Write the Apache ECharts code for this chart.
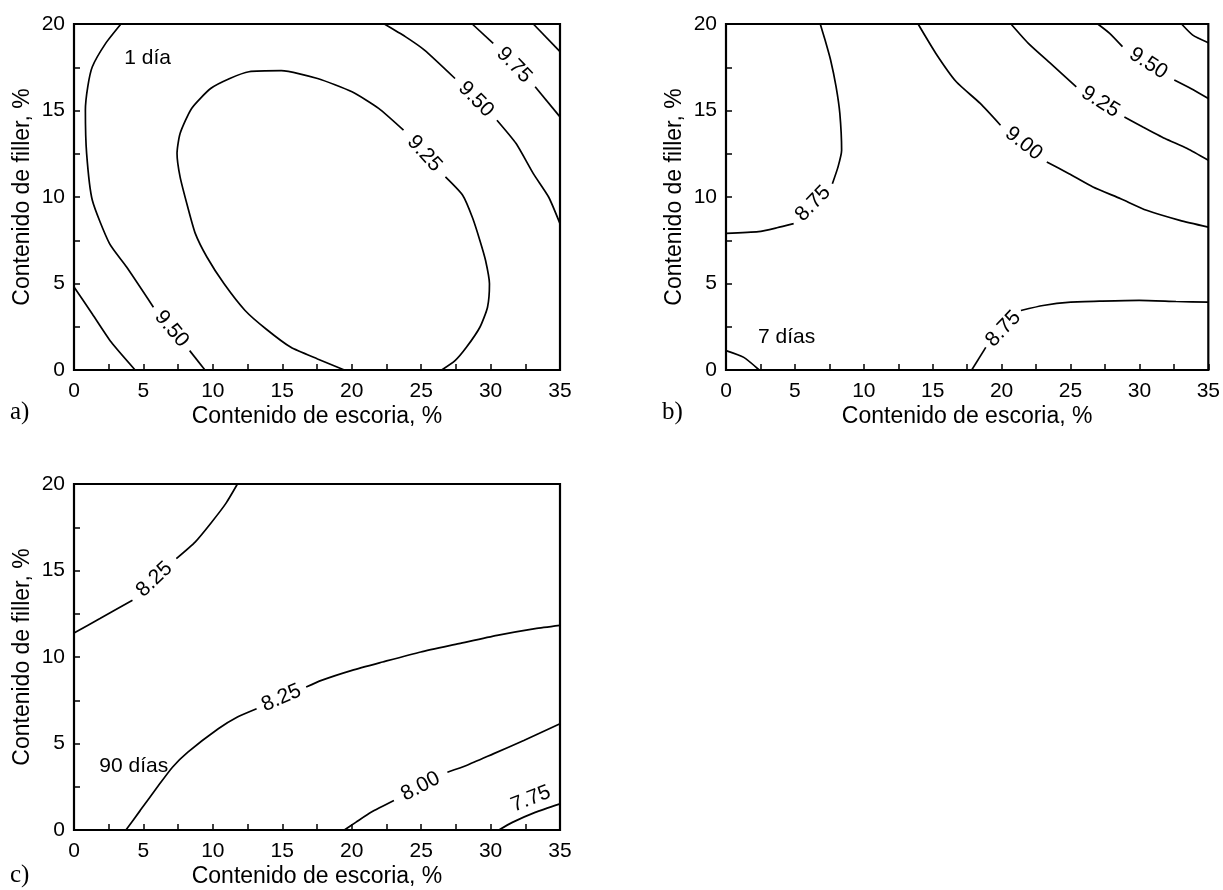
<!DOCTYPE html>
<html>
<head>
<meta charset="utf-8">
<script src="https://cdn.jsdelivr.net/npm/echarts@6/dist/echarts.min.js"></script>
<style>
html,body{margin:0;padding:0;background:#fff;}
#chart{width:1223px;height:890px;}
</style>
</head>
<body>
<div id="chart"></div>
<script>
// ---------- axis / text data ----------
const xRange = [0, 35];
const yRange = [0, 20];
const tickStep = 2.5;
const labelStep = 5;
const xTitle = 'Contenido de escoria, %';
const yTitle = 'Contenido de filler, %';
const panelLetters = ['a)', 'b)', 'c)'];
const panelTags = ['1 día', '7 días', '90 días'];
const panelTagPos = [[5.3, 18.0], [4.4, 1.9], [4.3, 3.7]];

// ---------- panel a (1 día) ----------
const a_975_low = [[0,4.8],[1.32,3.24],[2.69,1.6],[4.4,0]];
const a_950_left_1 = [[3.38,20],[2.28,18.88],[1.32,17.53],[0.99,16.37],[0.82,15.02],[0.91,12.51],[1.32,9.81],[2.56,7.3],[3.79,5.95],[5.72,3.63]];
const a_950_left_2 = [[8.33,1.12],[9.43,0]];
const a_925_1 = [[19.47,0],[17.54,0.64],[15.62,1.31],[13.83,2.37],[12.32,3.44],[10.81,4.98],[9.57,6.53],[8.74,7.88],[8.19,9.42],[7.64,11.16],[7.42,12.51],[7.64,13.67],[8.47,15.12],[9.84,16.27],[11.22,16.85],[12.6,17.24],[14.93,17.3],[17.54,16.85],[20.02,16.08],[21.94,15.12],[23.73,13.86]];
const a_925_2 = [[26.75,11.16],[27.99,10.1],[28.7,8.8],[29.23,7.49],[29.64,6.33],[29.92,4.98],[29.78,3.63],[29.23,2.47],[28.26,1.31],[27.44,0.54],[26.48,0]];
const a_950_right_1 = [[22.35,20],[23.86,19.27],[25.24,18.49],[27.44,16.85]];
const a_950_right_2 = [[30.46,14.44],[31.84,13.09],[33.08,11.35],[34.18,10.0],[35,8.46]];
const a_975_1 = [[28.68,20],[30.19,18.88]];
const a_975_2 = [[33.21,16.37],[35,14.63]];
const a_1000 = [[33.08,20],[35,18.4]];

// ---------- panel b (7 días) ----------
const b_875_top_1 = [[6.84,20],[7.19,19.07],[7.59,17.92],[7.99,16.37],[8.26,14.83],[8.39,12.7],[8.13,11.74],[7.72,10.77]];
const b_875_top_2 = [[4.91,8.46],[3.7,8.22],[2.36,8.0],[0,7.9]];
const b_900_1 = [[13.94,20],[15.23,18.3],[16.71,16.66],[18.45,15.41],[19.92,14.15]];
const b_900_2 = [[23.28,12.03],[24.89,11.35],[26.63,10.58],[28.64,9.9],[30.52,9.23],[32.93,8.65],[35,8.26]];
const b_925_1 = [[20.68,20],[21.94,18.88],[23.55,17.72],[25.42,16.37]];
const b_925_2 = [[28.91,14.63],[30.25,14.05],[31.86,13.38],[33.47,12.8],[35,12.12]];
const b_950_1 = [[26.98,20],[27.84,19.46],[28.77,18.69]];
const b_950_2 = [[32.53,16.76],[33.73,16.27],[35,15.69]];
const b_975 = [[33.06,20],[33.87,19.36],[35,18.92]];
const b_875_low_1 = [[17.83,0],[18.85,1.31]];
const b_875_low_2 = [[21.4,3.44],[23.01,3.73],[25.02,3.92],[27.3,3.98],[29.98,4.02],[32.66,3.96],[35,3.92]];
const b_850_corner = [[0,1.12],[1.29,0.73],[2.41,0]];

// ---------- panel c (90 días) ----------
const c_825_top_1 = [[0,11.39],[1.87,12.22],[4.21,13.28]];
const c_825_top_2 = [[7.37,15.69],[8.74,16.66],[9.84,17.72],[10.94,18.88],[11.77,20]];
const c_825_mid_1 = [[3.74,0],[4.76,1.12],[5.99,2.47],[7.09,3.63],[8.2,4.5],[10.39,5.85],[11.77,6.53],[13.15,7.01]];
const c_825_mid_2 = [[16.72,8.26],[17.82,8.65],[20.02,9.23],[22.22,9.71],[24.97,10.29],[27.72,10.77],[30.47,11.25],[33.21,11.64],[35,11.83]];
const c_800_1 = [[19.47,0],[20.29,0.44],[21.39,1.02],[23.04,1.7]];
const c_800_2 = [[26.89,3.34],[28.26,3.73],[30.19,4.4],[32.39,5.17],[35,6.14]];
const c_775 = [[30.6,0],[31.57,0.44],[33.21,1.02],[35,1.51]];
const c_775_labelAt = [32.9, 1.8];

// contours: grid index, parts, level label (placed in gap between parts)
const contours = [
  {g:0, parts:[a_975_low]},
  {g:0, parts:[a_950_left_1, a_950_left_2], text:'9.50'},
  {g:0, parts:[a_925_1, a_925_2], text:'9.25'},
  {g:0, parts:[a_950_right_1, a_950_right_2], text:'9.50'},
  {g:0, parts:[a_975_1, a_975_2], text:'9.75'},
  {g:0, parts:[a_1000]},
  {g:1, parts:[b_875_top_1, b_875_top_2], text:'8.75'},
  {g:1, parts:[b_900_1, b_900_2], text:'9.00'},
  {g:1, parts:[b_925_1, b_925_2], text:'9.25'},
  {g:1, parts:[b_950_1, b_950_2], text:'9.50'},
  {g:1, parts:[b_975]},
  {g:1, parts:[b_875_low_1, b_875_low_2], text:'8.75'},
  {g:1, parts:[b_850_corner]},
  {g:2, parts:[c_825_top_1, c_825_top_2], text:'8.25'},
  {g:2, parts:[c_825_mid_1, c_825_mid_2], text:'8.25'},
  {g:2, parts:[c_800_1, c_800_2], text:'8.00'},
  {g:2, parts:[c_775], text:'7.75', at:c_775_labelAt}
];

// ---------- layout ----------
const FONT = '"Liberation Sans", Arial, sans-serif';
const grids = [
  {left:74, top:24, width:486, height:346},
  {left:726, top:24, width:485, height:346},
  {left:74, top:484, width:486, height:346}
];
const letterPos = [[10, 400], [662, 400], [10, 863]];

const chart = echarts.init(document.getElementById('chart'), null, {renderer:'canvas'});

function fmt(v){ return (Math.abs(v % labelStep) < 1e-9) ? String(v) : ''; }

const xAxes = grids.map((g,i)=>({
  type:'value', gridIndex:i, min:xRange[0], max:xRange[1], interval:tickStep,
  axisLine:{show:false}, splitLine:{show:false},
  axisTick:{show:true, inside:true, length:6, lineStyle:{color:'#000', width:1.5}},
  axisLabel:{formatter:fmt, fontSize:21, color:'#000', fontFamily:FONT, margin:11, showMinLabel:true, showMaxLabel:true, hideOverlap:false},
  name:xTitle, nameLocation:'middle', nameGap:35,
  nameTextStyle:{fontSize:23, color:'#000', fontFamily:FONT}
}));
const yAxes = grids.map((g,i)=>({
  type:'value', gridIndex:i, min:yRange[0], max:yRange[1], interval:tickStep,
  axisLine:{show:false}, splitLine:{show:false},
  axisTick:{show:true, inside:true, length:6, lineStyle:{color:'#000', width:1.5}},
  axisLabel:{formatter:fmt, fontSize:21, color:'#000', fontFamily:FONT, margin:9, showMinLabel:true, showMaxLabel:true, hideOverlap:false},
  name:yTitle, nameLocation:'middle', nameGap:40,
  nameTextStyle:{fontSize:23, color:'#000', fontFamily:FONT}
}));

const lineSeries = [];
contours.forEach(c=>{
  c.parts.forEach(p=>{
    lineSeries.push({
      type:'line', xAxisIndex:c.g, yAxisIndex:c.g, data:p,
      symbol:'none', showSymbol:false, smooth:0.2, silent:true,
      lineStyle:{color:'#000', width:1.7}, clip:true
    });
  });
});

const baseOption = {
  animation:false,
  backgroundColor:'#fff',
  grid: grids.map(g=>Object.assign({show:true, borderColor:'#000', borderWidth:2.2, backgroundColor:'transparent', containLabel:false}, g)),
  xAxis:xAxes, yAxis:yAxes,
  graphic: panelLetters.map((t,i)=>({
    type:'text', left:letterPos[i][0], top:letterPos[i][1],
    style:{text:t, font:'25px "Liberation Serif", "Times New Roman", serif', fill:'#000'}
  })),
  series: lineSeries
};
chart.setOption(baseOption);

// ---------- labels computed through the axes ----------
function angleOf(g, p1, p2){
  const a = chart.convertToPixel({gridIndex:g}, p1);
  const b = chart.convertToPixel({gridIndex:g}, p2);
  let ang = Math.atan2(-(b[1]-a[1]), b[0]-a[0]) * 180 / Math.PI;
  if (ang > 90) ang -= 180;
  if (ang <= -90) ang += 180;
  return ang;
}
const labelData = [[],[],[]];
contours.forEach(c=>{
  if (!c.text) return;
  let pos, ang;
  if (c.parts.length === 2) {
    const e = c.parts[0][c.parts[0].length-1];
    const s = c.parts[1][0];
    pos = [(e[0]+s[0])/2, (e[1]+s[1])/2];
    ang = angleOf(c.g, e, s);
  } else {
    const p = c.parts[0];
    pos = c.at;
    ang = angleOf(c.g, p[1], p[p.length-1]);
  }
  labelData[c.g].push({value:pos, label:{rotate:ang, formatter:c.text}});
});
panelTags.forEach((t,i)=>{
  labelData[i].push({value:panelTagPos[i], label:{rotate:0, formatter:t}});
});
const labelSeries = labelData.map((d,i)=>({
  type:'scatter', xAxisIndex:i, yAxisIndex:i, symbolSize:0, silent:true, data:d,
  itemStyle:{opacity:1},
  label:{show:true, position:'inside', fontSize:21, color:'#000', opacity:1, fontFamily:FONT}
}));
chart.setOption({series: lineSeries.concat(labelSeries)});
</script>
</body>
</html>
